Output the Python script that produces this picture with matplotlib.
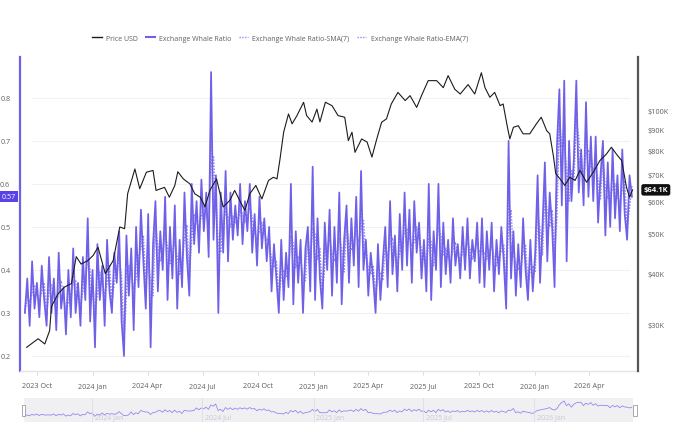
import matplotlib
matplotlib.use('Agg')
import matplotlib.pyplot as plt
import matplotlib.dates as mdates
import matplotlib.transforms as mtransforms
from matplotlib.lines import Line2D
from matplotlib.patches import Rectangle
import numpy as np
import pandas as pd

plt.rcParams['font.family'] = ['Open Sans', 'DejaVu Sans']

# ---- price (USD, thousands) ----
price_dates = [
    '2023-09-14', '2023-10-03', '2023-10-14', '2023-10-22', '2023-10-25', '2023-11-05',
    '2023-11-16', '2023-11-27', '2023-12-05', '2023-12-13', '2023-12-24', '2024-01-02',
    '2024-01-10', '2024-01-22', '2024-02-04', '2024-02-15', '2024-02-23', '2024-02-28',
    '2024-03-11', '2024-03-19', '2024-03-30', '2024-04-10', '2024-04-15', '2024-04-29',
    '2024-05-07', '2024-05-16', '2024-05-21', '2024-05-30', '2024-06-10', '2024-06-18',
    '2024-06-27', '2024-07-05', '2024-07-13', '2024-07-24', '2024-08-04', '2024-08-15',
    '2024-08-23', '2024-09-03', '2024-09-09', '2024-09-17', '2024-09-27', '2024-10-07',
    '2024-10-18', '2024-10-26', '2024-11-01', '2024-11-06', '2024-11-12', '2024-11-20',
    '2024-11-26', '2024-12-04', '2024-12-15', '2024-12-20', '2024-12-29', '2025-01-06',
    '2025-01-11', '2025-01-20', '2025-01-31', '2025-02-10', '2025-02-21', '2025-02-27',
    '2025-03-05', '2025-03-10', '2025-03-21', '2025-03-30', '2025-04-07', '2025-04-15',
    '2025-04-23', '2025-05-01', '2025-05-09', '2025-05-20', '2025-06-01', '2025-06-09',
    '2025-06-20', '2025-06-28', '2025-07-09', '2025-07-23', '2025-08-03', '2025-08-11',
    '2025-08-22', '2025-08-31', '2025-09-13', '2025-09-24', '2025-10-05', '2025-10-11',
    '2025-10-19', '2025-10-27', '2025-11-05', '2025-11-10', '2025-11-16', '2025-11-21',
    '2025-11-27', '2025-12-05', '2025-12-13', '2025-12-24', '2026-01-04', '2026-01-12',
    '2026-01-21', '2026-01-26', '2026-02-01', '2026-02-05', '2026-02-12', '2026-02-20',
    '2026-02-28', '2026-03-09', '2026-03-17', '2026-03-28', '2026-04-08', '2026-04-19',
    '2026-04-30', '2026-05-08', '2026-05-16', '2026-05-25', '2026-06-02', '2026-06-07',
    '2026-06-12',
]
price_k = [
    26.4, 27.7, 26.9, 29.0, 33.2, 35.7,
    37.1, 37.8, 44.0, 42.2, 43.0, 44.3,
    46.4, 40.0, 43.0, 52.0, 51.5, 62.7,
    72.1, 64.5, 70.8, 71.5, 63.9, 65.0,
    61.5, 65.7, 71.0, 68.2, 66.3, 62.7,
    61.5, 58.3, 63.9, 68.2, 58.2, 60.4,
    63.9, 59.3, 57.1, 62.7, 65.7, 60.9,
    67.6, 68.8, 68.2, 76.3, 88.7, 98.3,
    93.0, 97.4, 105.0, 97.4, 93.9, 101.0,
    94.0, 105.0, 103.0, 97.4, 96.5, 84.6,
    88.7, 79.2, 85.4, 83.9, 77.1, 85.4,
    93.8, 95.6, 104.0, 111.0, 106.0, 109.0,
    102.0, 109.0, 118.6, 118.6, 114.0, 122.0,
    113.0, 110.0, 116.0, 110.0, 124.0, 114.0,
    108.0, 111.0, 103.0, 104.0, 93.0, 85.4,
    91.2, 92.0, 87.9, 87.9, 93.0, 96.5,
    89.5, 87.9, 77.7, 70.2, 68.2, 65.7,
    68.8, 67.6, 71.5, 66.9, 70.8, 75.6,
    78.5, 81.5, 78.5, 75.6, 65.0, 61.5,
    64.1,
]

# ---- exchange whale ratio, one reading every 4 days from 2023-09-11 ----
ratio_start = '2023-09-11'
ratio_2023 = [0.30, 0.38, 0.27, 0.42, 0.31, 0.37, 0.29, 0.41, 0.33, 0.27, 0.43, 0.30, 0.38, 0.26,
              0.44, 0.31, 0.36, 0.25, 0.40, 0.29, 0.45, 0.30, 0.37, 0.27, 0.43, 0.33, 0.52, 0.28]
ratio_2024 = [0.40, 0.22,
              0.46, 0.33, 0.41, 0.27, 0.47, 0.35, 0.30, 0.44,
              0.37, 0.49, 0.28, 0.20, 0.48, 0.34, 0.45, 0.26,
              0.50, 0.36, 0.54, 0.42, 0.31, 0.53, 0.22, 0.46,
              0.56, 0.35, 0.49, 0.40, 0.57, 0.33, 0.50, 0.38,
              0.55, 0.31, 0.47, 0.36, 0.58, 0.43, 0.34,
              0.60, 0.46, 0.56, 0.44, 0.61, 0.49, 0.58, 0.43,
              0.86,
              0.47, 0.62, 0.30, 0.58, 0.44, 0.63, 0.42,
              0.58, 0.47, 0.55, 0.48, 0.60, 0.46, 0.56, 0.49,
              0.60, 0.44, 0.53, 0.41, 0.57, 0.45, 0.52, 0.42,
              0.50, 0.35, 0.46, 0.38, 0.30, 0.47, 0.33, 0.44,
              0.36, 0.60, 0.32, 0.49, 0.37, 0.47, 0.30, 0.45,
              0.50, 0.35, 0.64]
ratio_2025 = [0.33, 0.52, 0.38, 0.31, 0.51,
              0.40, 0.54, 0.34, 0.50, 0.37, 0.58, 0.32, 0.47,
              0.55, 0.37, 0.52, 0.41, 0.57, 0.36, 0.63, 0.40,
              0.47, 0.34, 0.44, 0.38, 0.30, 0.46, 0.33, 0.42,
              0.50, 0.36, 0.56, 0.39, 0.48, 0.35, 0.53, 0.40,
              0.58, 0.41, 0.54, 0.37, 0.56, 0.44, 0.51, 0.38,
              0.47, 0.35, 0.60, 0.33, 0.49, 0.40, 0.60, 0.36,
              0.51, 0.39, 0.47, 0.37, 0.52, 0.41, 0.46, 0.38,
              0.50, 0.40, 0.52, 0.38, 0.47, 0.42, 0.51, 0.37,
              0.52, 0.36, 0.49, 0.40, 0.51, 0.35, 0.47,
              0.39, 0.50, 0.42, 0.31, 0.70,
              0.38, 0.49, 0.34, 0.46, 0.36, 0.52, 0.40, 0.33, 0.47, 0.35]
ratio_2026 = [0.44, 0.62, 0.37, 0.50, 0.65, 0.42,
              0.58, 0.50, 0.36,
              0.69, 0.82, 0.55, 0.84, 0.42,
              0.70, 0.56, 0.66, 0.84, 0.58,
              0.68, 0.55, 0.79, 0.57, 0.71, 0.56,
              0.71, 0.51, 0.62, 0.70, 0.48,
              0.65, 0.50, 0.68, 0.52, 0.62, 0.49,
              0.68, 0.53, 0.47, 0.62, 0.57]

left_ticks = [0.2, 0.3, 0.4, 0.5, 0.6, 0.7, 0.8]
right_ticks = [30, 40, 50, 60, 70, 80, 90, 100]
legend_labels = ['Price USD', 'Exchange Whale Ratio',
                 'Exchange Whale Ratio-SMA(7)', 'Exchange Whale Ratio-EMA(7)']
nav_labels = ['2024-01-01', '2024-07-01', '2025-01-01', '2025-07-01', '2026-01-01']

PURPLE = '#6f60e8'
PURPLE_LIGHT = '#9489ef'
TXT = '#5f5f66'

ratio_vals = ratio_2023 + ratio_2024 + ratio_2025 + ratio_2026
ratio = pd.Series(ratio_vals, index=pd.date_range(ratio_start, periods=len(ratio_vals), freq='4D'))
sma = ratio.rolling(2, min_periods=1).mean()
ema = ratio.ewm(span=2, adjust=False).mean()
p_dates = pd.to_datetime(price_dates)

fig = plt.figure(figsize=(6.8, 4.39), dpi=100)
ax = fig.add_axes([20 / 680, 1 - 372 / 439, 618 / 680, 314 / 439])
ax2 = ax.twinx()

# whale ratio + averages
ax.plot(ratio.index, sma.values, color=PURPLE_LIGHT, lw=1.1, ls=(0, (1, 1)), zorder=2)
ax.plot(ratio.index, ema.values, color=PURPLE_LIGHT, lw=1.1, ls=(0, (1, 1)), zorder=2)
ax.plot(ratio.index, ratio.values, color=PURPLE, lw=1.25, zorder=3)

# price on log axis
ax2.plot(p_dates, price_k, color='#1c1c1c', lw=0.8, zorder=4)
ax2.set_yscale('log')
ax2.set_ylim(23.1, 135.5)
ax2.set_yticks(right_ticks)
ax2.set_yticklabels([f'${v}K' for v in right_ticks])
ax2.yaxis.set_minor_locator(matplotlib.ticker.NullLocator())

ax.set_ylim(0.165, 0.895)
ax.set_yticks(left_ticks)
ax.set_yticklabels([f'{v:.1f}' for v in left_ticks])
for v in left_ticks:
    ax.axhline(v, xmin=0.02, xmax=0.985, color='#f1f1f3', lw=0.8, zorder=0)

ax.set_xlim(pd.Timestamp('2023-09-03'), pd.Timestamp('2026-06-21'))
ax.xaxis.set_major_locator(mdates.MonthLocator(bymonth=[1, 4, 7, 10]))
ax.xaxis.set_major_formatter(mdates.DateFormatter('%Y %b'))

ax.tick_params(axis='y', length=0, pad=7, labelsize=5.2, labelcolor=TXT)
ax.tick_params(axis='x', length=3, width=0.6, color='#d8d8dc', pad=5, labelsize=5.2, labelcolor=TXT)
ax2.tick_params(axis='y', length=0, pad=7, labelsize=5.2, labelcolor=TXT)

for a in (ax, ax2):
    a.spines['top'].set_visible(False)
ax.spines['right'].set_visible(False)
ax2.spines['left'].set_visible(False)
ax2.spines['bottom'].set_visible(False)
ax.spines['left'].set_color(PURPLE)
ax.spines['left'].set_linewidth(1.6)
ax2.spines['right'].set_color('#555555')
ax2.spines['right'].set_linewidth(1.6)
ax.spines['bottom'].set_color('#e4e4e8')
ax.spines['bottom'].set_linewidth(1.0)

# last-value tags
tr_l = mtransforms.blended_transform_factory(ax.transAxes, ax.transData)
ax.annotate(f'{ratio.values[-1]:.2f}', xy=(0, ratio.values[-1]), xycoords=tr_l,
            xytext=(-3, 0), textcoords='offset points', ha='right', va='center',
            fontsize=5.2, color='white', annotation_clip=False,
            bbox=dict(boxstyle='square,pad=0.3', fc='#5a43e6', ec='none'))
tr_r = mtransforms.blended_transform_factory(ax2.transAxes, ax2.transData)
ax2.annotate(f'${price_k[-1]:.1f}K', xy=(1, price_k[-1]), xycoords=tr_r,
             xytext=(4, 0), textcoords='offset points', ha='left', va='center',
             fontsize=5.4, color='white', fontweight='bold', annotation_clip=False,
             bbox=dict(boxstyle='round,pad=0.3', fc='#111111', ec='none'))

# legend
handles = [Line2D([], [], color='#1c1c1c', lw=1.0),
           Line2D([], [], color=PURPLE, lw=1.5),
           Line2D([], [], color=PURPLE_LIGHT, lw=1.0, ls=(0, (1, 1))),
           Line2D([], [], color=PURPLE_LIGHT, lw=1.0, ls=(0, (1, 1)))]
fig.legend(handles, legend_labels, loc='center', bbox_to_anchor=(0.412, 0.911), ncol=4,
           frameon=False, fontsize=5.0, handlelength=1.3, handletextpad=0.6,
           columnspacing=1.15, labelcolor=TXT)

# navigator strip
nav = fig.add_axes([24 / 680, 1 - 423 / 439, 609 / 680, 24 / 439])
nav.set_facecolor('#f0f0f3')
nav.plot(ratio.index, ratio.rolling(3, min_periods=1).mean().values, color=PURPLE_LIGHT, lw=0.6)
nav.set_xlim(pd.Timestamp('2023-09-10'), pd.Timestamp('2026-06-13'))
nav.set_ylim(0.14, 0.82)
for d in nav_labels:
    t = pd.Timestamp(d)
    nav.axvline(t, color='#dcdce2', lw=0.6)
    nav.text(t + pd.Timedelta(days=4), 0.2, t.strftime('%Y %b'), fontsize=5, color='#c9c9d2',
             va='center', ha='left', transform=mtransforms.blended_transform_factory(nav.transData, nav.transAxes))
nav.set_xticks([])
nav.set_yticks([])
for s in nav.spines.values():
    s.set_visible(False)
for xpos in (-0.004, 1.0):
    nav.add_patch(Rectangle((xpos, 0.25), 0.006, 0.45, transform=nav.transAxes, fc='white',
                            ec='#9a9aa2', lw=0.6, clip_on=False, zorder=5))

plt.savefig('out.png', dpi=100, facecolor='white')
